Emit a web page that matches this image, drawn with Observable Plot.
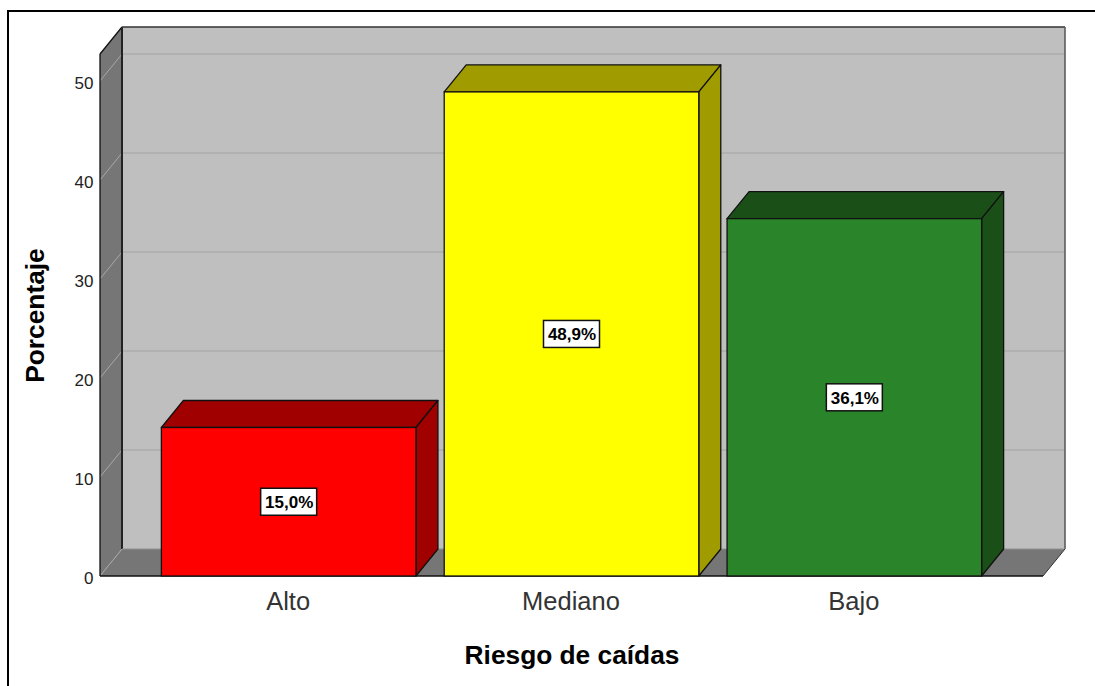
<!DOCTYPE html>
<html>
<head>
<meta charset="utf-8">
<script src="https://cdn.jsdelivr.net/npm/d3@7"></script>
<script src="https://cdn.jsdelivr.net/npm/@observablehq/plot@0.6"></script>
<style>
  html, body { margin: 0; padding: 0; background: #fff; overflow: hidden; }
  #chart { position: relative; width: 1095px; height: 686px; }
  #chart svg { position: absolute; left: 0; top: 0; background: transparent; }
  #frame { position: absolute; left: 7px; top: 10px; right: 0; bottom: 0; border-top: 2px solid #000; border-left: 2px solid #000; }
</style>
</head>
<body>
<div id="chart"><div id="frame"></div></div>
<script>
const categories = ["Alto", "Mediano", "Bajo"];
const percentages = [15.0, 48.9, 36.1];
const valueLabels = ["15,0%", "48,9%", "36,1%"];
const frontColors = ["#ff0000", "#ffff00", "#2a842a"];
const sideColors = ["#a00000", "#a09c00", "#1a5018"];
const yTicks = [0, 10, 20, 30, 40, 50];
const yTop = 52.73;
const depthX = 22, depthY = -27;
const paddingInner = 0.1;

const rows = categories.map((c, i) => ({
  category: c, value: percentages[i], label: valueLabels[i], front: frontColors[i], side: sideColors[i]
}));

function appendPoly(g, pts, fill, stroke, width) {
  d3.select(g).append("path")
    .attr("d", "M" + pts.map(p => p.join(",")).join("L") + "Z")
    .attr("fill", fill).attr("stroke", stroke || "none").attr("stroke-width", width || 1)
    .attr("stroke-linejoin", "round");
}
function appendLine(g, a, b, stroke, width) {
  d3.select(g).append("line")
    .attr("x1", a[0]).attr("y1", a[1]).attr("x2", b[0]).attr("y2", b[1])
    .attr("stroke", stroke).attr("stroke-width", width || 1);
}
const barWidth = scales => (scales.x(categories[1]) - scales.x(categories[0])) * (1 - paddingInner);

const walls = (index, scales, values, dim, ctx) => {
  const g = ctx.document.createElementNS("http://www.w3.org/2000/svg", "g");
  const L = dim.marginLeft, R = dim.width - dim.marginRight;
  const y0 = scales.y(0), T = scales.y(yTop);
  appendPoly(g, [[L + depthX, y0 + depthY], [R + depthX, y0 + depthY], [R + depthX, T + depthY], [L + depthX, T + depthY]], "#bfbfbf");
  appendPoly(g, [[L, y0], [L + depthX, y0 + depthY], [L + depthX, T + depthY], [L, T]], "#767676");
  appendPoly(g, [[L, y0], [R, y0], [R + depthX, y0 + depthY], [L + depthX, y0 + depthY]], "#767676");
  for (const v of yTicks) {
    const y = scales.y(v);
    if (v > 0) appendLine(g, [L + depthX, y + depthY], [R + depthX, y + depthY], "#adadad", 1.5);
    appendLine(g, [L, y], [L + depthX, y + depthY], "#a8a8a8", 1);
  }
  appendLine(g, [L, y0], [L, T], "#111", 1.3);
  appendLine(g, [L, T], [L + depthX, T + depthY], "#111", 1.3);
  appendLine(g, [L + depthX, T + depthY], [L + depthX, y0 + depthY], "#222", 2);
  appendLine(g, [L + depthX, T + depthY], [R + depthX, T + depthY], "#333", 1.5);
  appendLine(g, [R + depthX, T + depthY], [R + depthX, y0 + depthY], "#555", 1.5);
  appendLine(g, [L + depthX, y0 + depthY], [R + depthX, y0 + depthY], "#909090", 1);
  appendLine(g, [R, y0], [R + depthX, y0 + depthY], "#333", 1);
  appendLine(g, [L, y0], [R, y0], "#111", 1.5);
  return g;
};

const prism = (index, scales, values, dim, ctx, next) => {
  const g = ctx.document.createElementNS("http://www.w3.org/2000/svg", "g");
  const w = barWidth(scales);
  for (const i of index) {
    const d = rows[i];
    const x1 = scales.x(d.category), x2 = x1 + w;
    const yT = scales.y(d.value), yB = scales.y(0);
    appendPoly(g, [[x1, yT], [x1 + depthX, yT + depthY], [x2 + depthX, yT + depthY], [x2, yT]], d.side, "#111", 1.3);
    appendPoly(g, [[x2, yT], [x2 + depthX, yT + depthY], [x2 + depthX, yB + depthY], [x2, yB]], d.side, "#111", 1.3);
  }
  g.appendChild(next(index, scales, values, dim, ctx));
  return g;
};

const boxedLabels = (index, scales, values, dim, ctx, next) => {
  const g = ctx.document.createElementNS("http://www.w3.org/2000/svg", "g");
  const w = barWidth(scales);
  for (const i of index) {
    const d = rows[i];
    const cx = scales.x(d.category) + w / 2, cy = scales.y(d.value / 2);
    d3.select(g).append("rect")
      .attr("x", cx - 28).attr("y", cy - 13.5).attr("width", 56).attr("height", 27)
      .attr("fill", "#fff").attr("stroke", "#111").attr("stroke-width", 1.5);
  }
  g.appendChild(next(index, scales, values, dim, ctx));
  return g;
};

const fontFamily = "'Liberation Sans', Arial, sans-serif";

const plot = Plot.plot({
  width: 1095,
  height: 686,
  marginTop: 54,
  marginBottom: 110,
  marginLeft: 100,
  marginRight: 52,
  style: { fontFamily, background: "transparent" },
  x: { type: "band", domain: categories, paddingInner, paddingOuter: 0.217, align: 0.5, round: false, label: null },
  y: { domain: [0, yTop], label: null },
  marks: [
    Plot.ruleY([0], { stroke: "none", render: walls }),
    Plot.barY(rows, { x: "category", y: "value", fill: "front", stroke: "#111", strokeWidth: 1.3, render: prism }),
    Plot.text(rows, { x: "category", y: d => d.value / 2, text: "label", fontSize: 17, fontWeight: "bold", fill: "#000", dy: 0.5, render: boxedLabels }),
    Plot.axisY({ ticks: yTicks, tickSize: 0, tickPadding: 7, fontSize: 17, fill: "#222", dy: 2.5, label: null }),
    Plot.axisX({ tickSize: 0, tickPadding: 15, fontSize: 25.5, fill: "#333", dx: -1, label: null }),
    Plot.text(["Riesgo de caídas"], { frameAnchor: "bottom", dy: 87, text: d => d, fontSize: 26.3, fontWeight: "bold", fill: "#000" }),
    Plot.text(["Porcentaje"], { frameAnchor: "left", dx: -65, rotate: -90, textAnchor: "middle", text: d => d, fontSize: 26.3, fontWeight: "bold", fill: "#000" })
  ]
});
document.getElementById("chart").appendChild(plot);
</script>
</body>
</html>
